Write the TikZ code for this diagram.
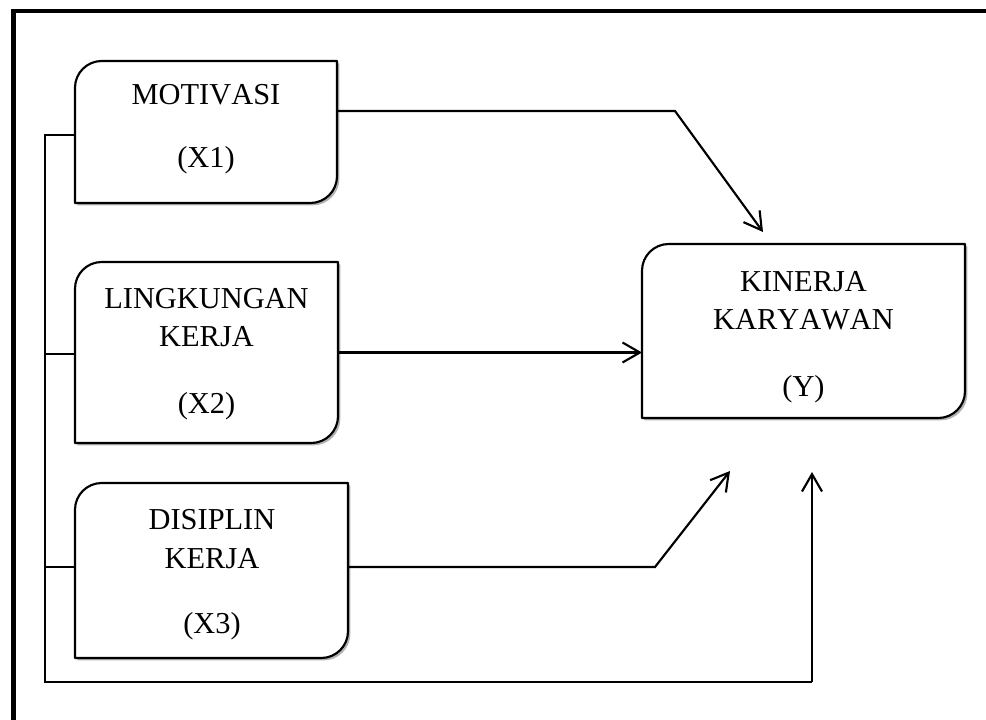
\documentclass[tikz,border=0pt]{standalone}
\usepackage{fontspec}
\setmainfont[Kerning=Off]{Liberation Serif}
\usetikzlibrary{arrows.meta,shadows}
\tikzset{
  boxnode/.style={rectangle, inner sep=0pt, outer sep=0pt},
  boxline/.style={line width=1.6pt, fill=white, line join=round,
    drop shadow={shadow xshift=1.8pt, shadow yshift=-1.8pt, opacity=0.3, fill=black}},
  lbl/.style={font=\fontsize{22.8}{27}\selectfont, anchor=base, inner sep=0pt},
  conn/.style={line width=1.6pt, line join=miter},
  arr/.style={conn, -{Straight Barb[length=13pt, width=15pt, line width=1.6pt]}},
  frame/.style={line width=3.4pt}
}
\newcommand\diagshape[1]{%
  \draw[boxline] (#1.north east) -- ([yshift=20pt]#1.south east)
    .. controls ([yshift=9pt]#1.south east) and ([xshift=-9pt]#1.south east) .. ([xshift=-20pt]#1.south east)
    -- (#1.south west) -- ([yshift=-20pt]#1.north west)
    .. controls ([yshift=-9pt]#1.north west) and ([xshift=9pt]#1.north west) .. ([xshift=20pt]#1.north west)
    -- cycle;}
\begin{document}
\begin{tikzpicture}[x=0.75pt,y=-0.75pt]
\clip (0,0) rectangle (986,720);
\fill[white] (0,0) rectangle (986,720);
% outer frame
\coordinate (fa) at (13.5,730);
\coordinate (fb) at (13.5,11);
\coordinate (fc) at (1000,11);
\draw[frame] (fa) -- (fb) -- (fc);

% boxes
\node[boxnode, minimum width=196.5pt, minimum height=106.5pt] (x1) at (206,132) {};
\node[boxnode, minimum width=197.25pt, minimum height=135.75pt] (x2) at (206.5,352.5) {};
\node[boxnode, minimum width=204.75pt, minimum height=131.25pt] (x3) at (211.5,570.5) {};
\node[boxnode, minimum width=242.25pt, minimum height=130.5pt] (y) at (803.5,331) {};
\diagshape{x1}
\diagshape{x2}
\diagshape{x3}
\diagshape{y}

% texts
\node[lbl] (t1a) at (206,105) {MOTIVASI};
\node[lbl] (t1b) at (206,168) {(X1)};
\node[lbl] (t2a) at (206.5,309) {LINGKUNGAN};
\node[lbl] (t2b) at (206.5,347) {KERJA};
\node[lbl] (t2c) at (206.5,413) {(X2)};
\node[lbl] (t3a) at (212,529) {DISIPLIN};
\node[lbl] (t3b) at (212,568) {KERJA};
\node[lbl] (t3c) at (212,633) {(X3)};
\node[lbl] (tya) at (803.5,292) {KINERJA};
\node[lbl] (tyb) at (803.5,330) {KARYAWAN};
\node[lbl] (tyc) at (803.5,397) {(Y)};

% connectors
\coordinate (k1) at (675,111);
\coordinate (e1) at (763,232);
\draw[arr] (x1.east |- k1) -- (k1) -- (e1);
\draw[arr] (x2.east) -- (x2.east -| y.west);
\coordinate (k3) at (655,567);
\coordinate (e3) at (730,471);
\draw[arr] (x3.east |- k3) -- (k3) -- (e3);

% left feedback bracket
\coordinate (l1) at (45,135);
\coordinate (l2) at (45,354);
\coordinate (l3) at (45,567);
\coordinate (lb) at (45,682);
\coordinate (rb) at (812,682);
\coordinate (e4) at (812,472);
\draw[conn] (x1.west |- l1) -- (l1) -- (lb) -- (rb);
\draw[arr] (rb) -- (e4);
\draw[conn] (l2) -- (x2.west |- l2);
\draw[conn] (l3) -- (x3.west |- l3);
\end{tikzpicture}
\end{document}
